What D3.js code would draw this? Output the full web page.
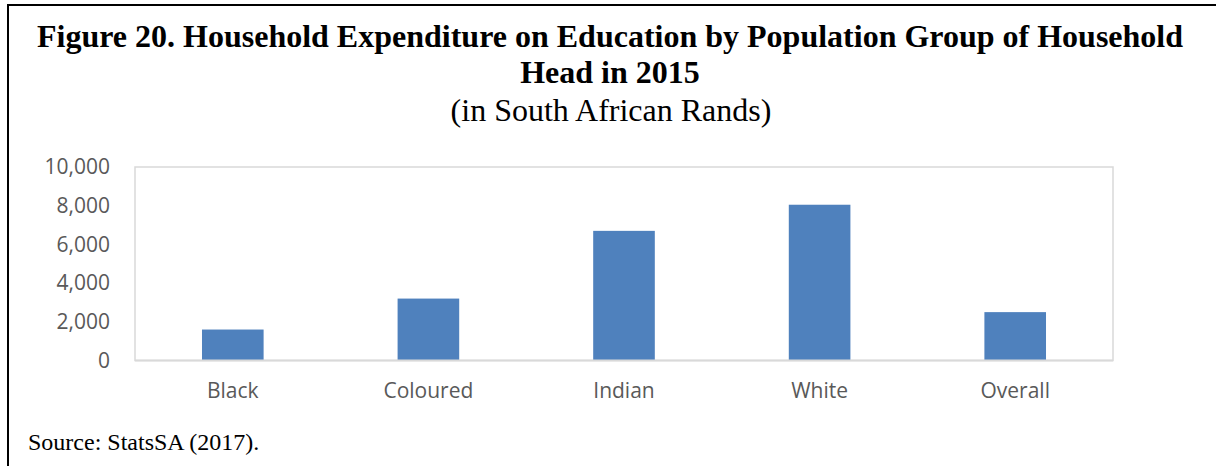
<!DOCTYPE html>
<html><head><meta charset="utf-8">
<script src="https://cdn.jsdelivr.net/npm/d3@7"></script>
<style>body{margin:0;background:#fff;}svg{display:block;}</style>
</head><body>
<script>
const categories = ["Black", "Coloured", "Indian", "White", "Overall"];
const values = [1600, 3200, 6700, 8050, 2500];
const yTicks = [0, 2000, 4000, 6000, 8000, 10000];

const W = 1216, H = 466;
const svg = d3.select("body").append("svg").attr("width", W).attr("height", H);

// frame
svg.append("line").attr("x1", 8).attr("x2", 8).attr("y1", 4).attr("y2", H).attr("stroke", "#000").attr("stroke-width", 2);
svg.append("line").attr("x1", 7).attr("x2", W).attr("y1", 5).attr("y2", 5).attr("stroke", "#000").attr("stroke-width", 2);

const serif = "Liberation Serif, Times New Roman, serif";
// titles
svg.append("text").attr("x", 610).attr("y", 47).attr("text-anchor", "middle")
  .attr("font-family", serif).attr("font-weight", "bold").attr("font-size", 32)
  .text("Figure 20. Household Expenditure on Education by Population Group of Household");
svg.append("text").attr("x", 610).attr("y", 83).attr("text-anchor", "middle")
  .attr("font-family", serif).attr("font-weight", "bold").attr("font-size", 32)
  .text("Head in 2015");
svg.append("text").attr("x", 611).attr("y", 121).attr("text-anchor", "middle")
  .attr("font-family", serif).attr("font-size", 32)
  .text("(in South African Rands)");

const plot = {left: 135, right: 1113, top: 167, bottom: 360.5};
const x = d3.scaleBand().domain(categories).range([plot.left, plot.right]).paddingInner(0.685).paddingOuter(0.3425);
const y = d3.scaleLinear().domain([0, 10000]).range([plot.bottom, plot.top]);

// plot border
svg.append("rect").attr("x", plot.left).attr("y", plot.top).attr("width", plot.right - plot.left).attr("height", plot.bottom - plot.top)
  .attr("fill", "none").attr("stroke", "#d9d9d9").attr("stroke-width", 1.5);

// bars
svg.selectAll("rect.bar").data(values).enter().append("rect").attr("class", "bar")
  .attr("x", (d, i) => x(categories[i])).attr("width", x.bandwidth())
  .attr("y", d => y(d)).attr("height", d => y(0) - y(d))
  .attr("fill", "#4f81bd");

// baseline
svg.append("line").attr("x1", plot.left).attr("x2", plot.right).attr("y1", plot.bottom).attr("y2", plot.bottom)
  .attr("stroke", "#d9d9d9").attr("stroke-width", 2);

// y axis
const yAxis = d3.axisLeft(y).tickValues(yTicks).tickFormat(d3.format(",")).tickSize(0).tickPadding(25);
const ya = svg.append("g").attr("transform", `translate(${plot.left},0)`).call(yAxis);
ya.select(".domain").remove();
ya.selectAll("text").attr("font-family", "Open Sans, sans-serif").attr("font-size", 21).attr("fill", "#595959");

// x axis
const xAxis = d3.axisBottom(x).tickSize(0).tickPadding(23);
const xa = svg.append("g").attr("transform", `translate(0,${plot.bottom})`).call(xAxis);
xa.select(".domain").remove();
xa.selectAll("text").attr("font-family", "Open Sans, sans-serif").attr("font-size", 21).attr("fill", "#595959");

// source
svg.append("text").attr("x", 28).attr("y", 450)
  .attr("font-family", serif).attr("font-size", 24)
  .text("Source: StatsSA (2017).");
</script>
</body></html>
